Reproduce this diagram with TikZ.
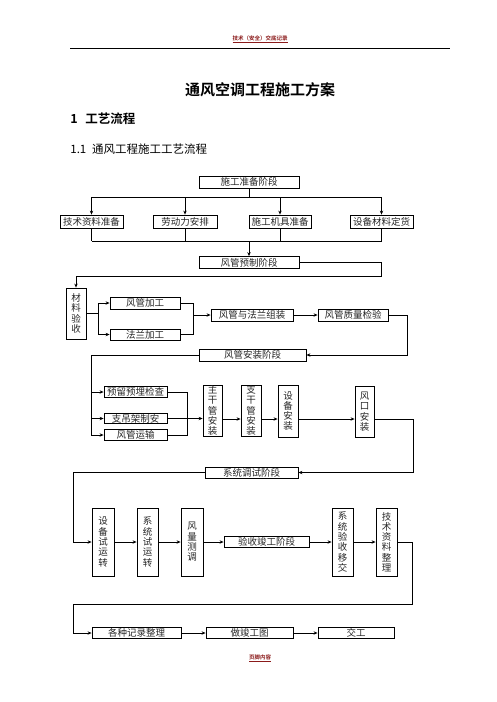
\documentclass[tikz,border=0pt]{standalone}
\usepackage{fontspec}
\setmainfont{Noto Sans CJK SC}
\newfontfamily\cjkb{Noto Sans CJK SC Bold}
\usetikzlibrary{arrows.meta}
\definecolor{hdr}{HTML}{8B1A1A}
\newcommand\mkbox[6]{\node[box,minimum width=#4pt,minimum height=#5pt] (#1) at (#2,#3) {#6};}
\begin{document}
\begin{tikzpicture}[x=1pt,y=-1pt,line width=0.8pt,
  >={Stealth[length=4pt,width=3.4pt]},
  box/.style={draw,line width=0.8pt,inner sep=0pt,text=black!85,align=center,
    font=\fontsize{9.5}{10.3}\selectfont},
  txt/.style={inner sep=0pt}]
\fill[white] (0,0) rectangle (496,702);
\useasboundingbox (0,0) rectangle (496,702);
% header / title
\node[txt,text=hdr,font=\cjkb\fontsize{5.5}{6}\selectfont] (hd) at (260,39) {\underline{技术（安全）交底记录}};
\coordinate (hl) at (70,48); \coordinate (hr) at (450,48);
\draw (hl) -- (hr);
\node[txt,font=\cjkb\fontsize{15}{18}\selectfont] (title) at (260,90) {通风空调工程施工方案};
\node[txt,anchor=west,font=\cjkb\fontsize{12.5}{15}\selectfont] (s1) at (70,119) {1\hspace{0.6em}工艺流程};
\node[txt,anchor=west,font=\fontsize{11.5}{14}\selectfont] (s11) at (70,149) {1.1\hspace{0.5em}通风工程施工工艺流程};
\node[txt,text=hdr,font=\cjkb\fontsize{5.5}{6}\selectfont] (ft) at (260,658) {\underline{页脚内容}};
% boxes
\mkbox{A}{249}{182}{100}{12}{施工准备阶段}
\mkbox{B1}{91.5}{221.5}{63}{13}{技术资料准备}
\mkbox{B2}{185}{221.5}{64}{13}{劳动力安排}
\mkbox{B3}{280}{221.5}{62}{13}{施工机具准备}
\mkbox{B4}{381.5}{221.5}{63}{13}{设备材料定货}
\mkbox{C}{249}{262.5}{100}{12}{风管预制阶段}
\mkbox{D}{76}{313.5}{20}{51}{材\\料\\验\\收}
\mkbox{E}{145}{303}{70}{12}{风管加工}
\mkbox{F}{145}{334.5}{70}{11}{法兰加工}
\mkbox{G}{252}{315}{82}{12}{风管与法兰组装}
\mkbox{H}{353}{315}{70}{12}{风管质量检验}
\mkbox{I}{252.5}{355}{107}{12}{风管安装阶段}
\mkbox{J}{135.5}{392}{63}{10.5}{预留预埋检查}
\mkbox{K}{135.5}{418.5}{63}{10.5}{支吊架制安}
\mkbox{L}{135.5}{435}{63}{10.5}{风管运输}
\mkbox{M}{212.5}{410.5}{19}{51}{主\\干\\管\\安\\装}
\mkbox{N}{251}{410.5}{20}{51}{支\\干\\管\\安\\装}
\mkbox{O}{288}{411}{20}{52}{设\\备\\安\\装}
\mkbox{P}{364.5}{411.5}{19}{51}{风\\口\\安\\装}
\mkbox{Q}{251.5}{472.5}{93}{11}{系统调试阶段}
\mkbox{R}{103}{542}{22}{68}{设\\备\\试\\运\\转}
\mkbox{S}{147.5}{542}{21}{68}{系\\统\\试\\运\\转}
\mkbox{T}{192}{542}{22}{68}{风\\量\\测\\调}
\mkbox{U}{266.5}{542}{85}{10.5}{验收竣工阶段}
\mkbox{V}{342.5}{542}{21}{68}{系\\统\\验\\收\\移\\交}
\mkbox{W}{386.5}{542}{21}{68}{技\\术\\资\\料\\整\\理}
\mkbox{X}{136.5}{633}{89}{10.5}{各种记录整理}
\mkbox{Y}{249.5}{633}{87}{10.5}{做竣工图}
\mkbox{Z}{356}{633}{76}{10.5}{交工}
% helper coordinates
\coordinate (t) at (0,197);
\coordinate (u) at (0,241);
\coordinate (v) at (381,276);
\coordinate (w) at (98,0);
\coordinate (g) at (193,0);
\coordinate (h) at (407,0);
\coordinate (i) at (91,0);
\coordinate (j) at (187,0);
\coordinate (k) at (0,419);
\coordinate (p) at (413,0);
\coordinate (q) at (73,0);
\coordinate (r) at (412,604);
% stage 1
\draw (A.south) -- (A.south |- t);
\draw (B1.north |- t) -- (B4.north |- t);
\foreach \n in {B1,B2,B3,B4}{
  \draw[->] (\n.north |- t) -- (\n.north);
  \draw (\n.south) -- (\n.south |- u);
}
\draw (B1.south |- u) -- (B4.south |- u);
\draw[->] (C.north |- u) -- (C.north);
% stage 2
\draw[->] (C.east) -| (v) -| (D.north);
\draw (D.east) -- (D.east -| w);
\draw (E.west -| w) -- (F.west -| w);
\draw[->] (E.west -| w) -- (E.west);
\draw[->] (F.west -| w) -- (F.west);
\draw (E.east) -- (E.east -| g) -- (F.east -| g) -- (F.east);
\draw[->] (G.west -| g) -- (G.west);
\draw[->] (G.east) -- (H.west);
\draw[->] (H.east) -| (h |- I.east) -- (I.east);
% stage 3
\draw (I.west) -| (i |- L.west);
\draw[->] (i |- J.west) -- (J.west);
\draw[->] (i |- K.west) -- (K.west);
\draw[->] (i |- L.west) -- (L.west);
\draw (J.east) -| (j |- L.east) -- (L.east);
\draw[->] (K.east) -- (M.west |- K.east);
\draw[->] (M.east |- k) -- (N.west |- k);
\draw[->] (N.east |- k) -- (O.west |- k);
\draw[->] (O.east |- k) -- (P.west |- k);
\draw[->] (P.east |- k) -| (p |- Q.east) -- (Q.east);
% stage 4
\draw[->] (Q.west) -| (q |- R.west) -- (R.west);
\draw[->] (R.east) -- (S.west);
\draw[->] (S.east) -- (T.west);
\draw[->] (T.east) -- (U.west);
\draw[->] (U.east) -- (V.west);
\draw[->] (V.east) -- (W.west);
\draw[->] (W.east) -| (r) -- (q |- r) |- (X.west);
\draw[->] (X.east) -- (Y.west);
\draw[->] (Y.east) -- (Z.west);
\end{tikzpicture}
\end{document}
